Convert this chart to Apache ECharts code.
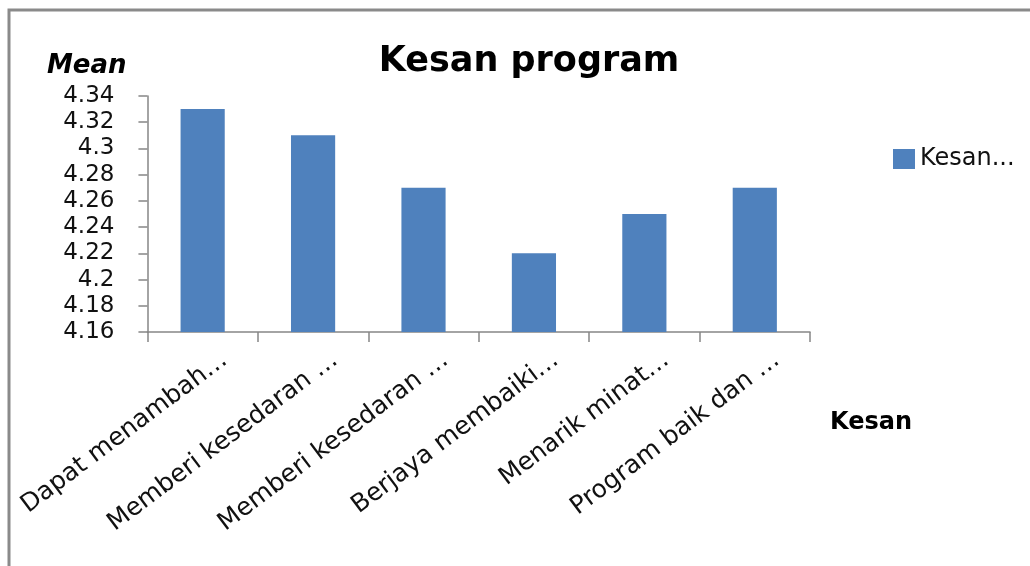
<!DOCTYPE html>
<html>
<head>
<meta charset="utf-8">
<title>Kesan program</title>
<script src="https://cdn.jsdelivr.net/npm/echarts@6/dist/echarts.min.js"></script>
<style>
	html, body { margin: 0; padding: 0; background: #fff; }
	#chart { width: 1030px; height: 566px; }
</style>
</head>
<body>
<div id="chart"></div>
<script>
// data
var categories = [ 'Dapat menambah…', 'Memberi kesedaran …', 'Memberi kesedaran …',
		'Berjaya membaiki…', 'Menarik minat…', 'Program baik dan …' ];
var meanValues = [ 4.33, 4.31, 4.27, 4.22, 4.25, 4.27 ];
var seriesName = 'Kesan...';
var yMin = 4.16, yMax = 4.34, yStep = 0.02;

var myChart = echarts.init(document.getElementById('chart'));
var font = 'DejaVu Sans';
var axisGray = '#868686';

var option = {
	animation : false,
	textStyle : { fontFamily : font },
	// outer frame of the chart area
	graphic : [ {
		type : 'rect',
		shape : { x : 9, y : 10, width : 1100, height : 700 },
		style : { fill : 'none', stroke : '#8a8a8a', lineWidth : 3 }
	} ],
	title : {
		text : 'Kesan program',
		left : 524,
		textAlign : 'center',
		top : 39,
		textStyle : { fontFamily : font, fontSize : 35, fontWeight : 'bold', color : '#000' }
	},
	legend : {
		data : [ seriesName ],
		left : 888,
		top : 142,
		itemWidth : 22,
		itemHeight : 20,
		itemGap : 8,
		icon : 'rect',
		textStyle : { fontFamily : font, fontSize : 24, color : '#111' }
	},
	grid : {
		left : 147,
		right : 220,
		top : 96,
		bottom : 234
	},
	xAxis : {
		type : 'category',
		data : categories,
		name : 'Kesan',
		nameLocation : 'end',
		nameGap : 20,
		nameTextStyle : {
			fontFamily : font, fontSize : 24, fontWeight : 'bold', color : '#000',
			align : 'left', verticalAlign : 'top', lineHeight : 182
		},
		axisLine : { lineStyle : { color : axisGray, width : 1.5 } },
		axisTick : { show : true, length : 10, alignWithLabel : false, lineStyle : { color : axisGray, width : 1.5 } },
		axisLabel : {
			interval : 0,
			rotate : 37,
			margin : -4,
			verticalAlign : 'top',
			lineHeight : 73,
			fontFamily : font,
			fontSize : 25,
			color : '#111'
		}
	},
	yAxis : {
		type : 'value',
		min : yMin,
		max : yMax,
		interval : yStep,
		name : 'Mean',
		nameLocation : 'end',
		nameGap : 17,
		nameTextStyle : {
			fontFamily : font, fontSize : 26, fontWeight : 'bold', fontStyle : 'italic', color : '#000',
			align : 'right', padding : [ 0, 21, 0, 0 ]
		},
		splitLine : { show : false },
		axisLine : { show : true, lineStyle : { color : axisGray, width : 1.5 } },
		axisTick : { show : true, length : 9, lineStyle : { color : axisGray, width : 1.5 } },
		axisLabel : {
			margin : 33,
			fontFamily : font,
			fontSize : 23,
			color : '#111',
			formatter : function(v) {
				return String(parseFloat(v.toFixed(2)));
			}
		}
	},
	series : [ {
		name : seriesName,
		type : 'bar',
		data : meanValues,
		barWidth : '40%',
		itemStyle : { color : '#4F81BD' }
	} ]
};

myChart.setOption(option);
</script>
</body>
</html>
